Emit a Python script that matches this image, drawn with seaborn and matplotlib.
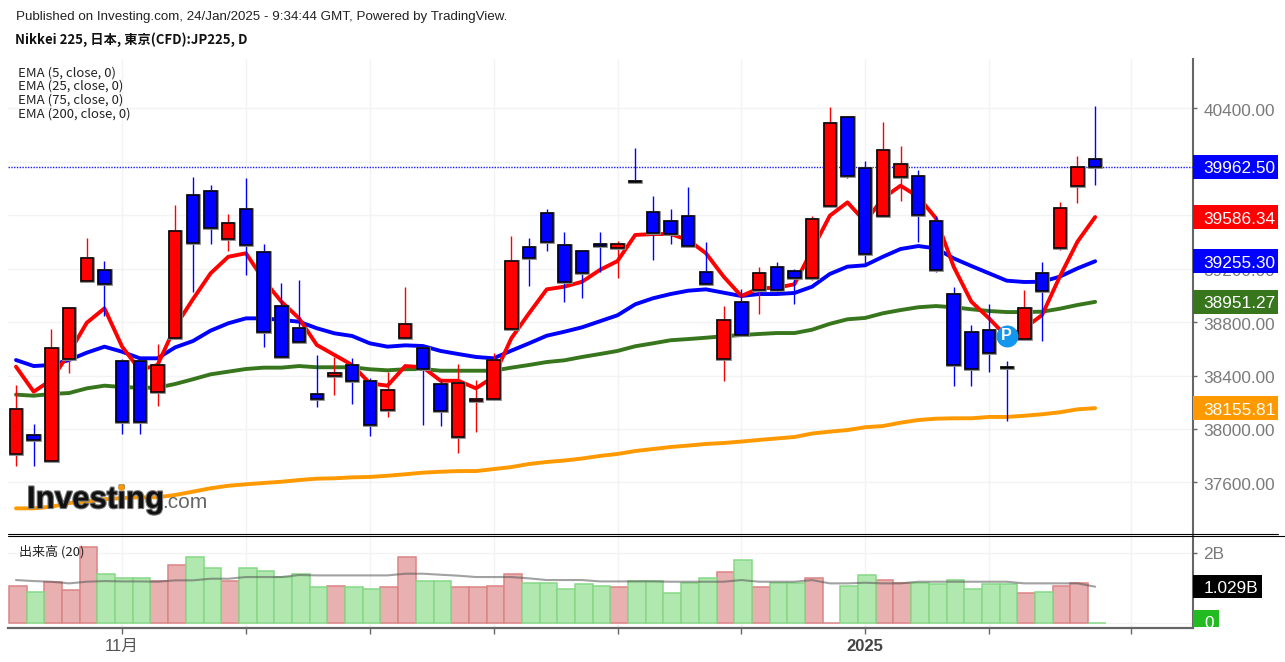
import matplotlib
matplotlib.use('Agg')
import matplotlib.pyplot as plt
import matplotlib.patheffects as pe
from matplotlib.lines import Line2D
from matplotlib.patches import Rectangle
from matplotlib.transforms import ScaledTranslation, blended_transform_factory
import pandas as pd
import seaborn as sns

opens = [37811, 37955, 37763, 38526, 39110, 39190, 38507, 38507, 38279, 38683, 39751, 39783, 39424,
         39649, 39325, 38920, 38754, 38260, 38399, 38481, 38357, 38142, 38683, 38604, 38337, 37940,
         38209, 38222, 38750, 39360, 39614, 39379, 39334, 39381, 39357, 39856, 39626, 39559, 39594,
         39177, 38526, 38953, 39042, 39210, 39180, 39132, 39671, 40337, 39953, 39594, 39884, 39896,
         39559, 39010, 38728, 38741, 38464, 38673, 39167, 39354, 39816, 40020]
closes = [38147, 37920, 38604, 38908, 39277, 39087, 38052, 38052, 38481, 39484, 39390, 39502, 39539,
          39377, 38728, 38536, 38651, 38222, 38417, 38357, 38032, 38292, 38786, 38447, 38135, 38346,
          38221, 38514, 39257, 39277, 39402, 39098, 39165, 39369, 39382, 39845, 39469, 39457, 39369,
          39087, 38818, 38706, 39165, 39040, 39132, 39571, 40290, 39896, 39312, 40088, 39985, 39604,
          39188, 38481, 38447, 38571, 38453, 38908, 39030, 39652, 39963, 39962.5]
highs = [38329, 38037, 38746, 38913, 39429, 39259, 38524, 38509, 38634, 39676, 39888, 39826, 39609,
         39878, 39384, 39090, 39115, 38554, 38541, 38529, 38384, 38429, 39060, 38616, 38367, 38486,
         38367, 38569, 39444, 39427, 39644, 39474, 39334, 39474, 39407, 40103, 39744, 39644, 39809,
         39397, 38923, 39045, 39214, 39247, 39195, 39596, 40407, 40345, 40003, 40295, 40116, 39936,
         39594, 39060, 38778, 38935, 38509, 39038, 39250, 39696, 40045, 40417]
lows = [37725, 37725, 37763, 38421, 39100, 38846, 37960, 37960, 38174, 38671, 39027, 39384, 39332,
        39152, 38611, 38536, 38651, 38162, 38252, 38185, 37950, 38092, 38676, 38028, 38022, 37820,
        37977, 38217, 38748, 39072, 39330, 38950, 38983, 39177, 39130, 39839, 39262, 39387, 39369,
        39087, 38361, 38706, 38858, 39020, 38938, 39115, 39671, 39881, 39235, 39594, 39708, 39397,
        39173, 38319, 38319, 38429, 38062, 38673, 38656, 39340, 39689, 39824]

ema5 = [38466, 38279, 38367, 38569, 38795, 38903, 38616, 38441, 38479, 38766, 38971, 39165, 39289,
        39315, 39115, 38953, 38828, 38629, 38554, 38479, 38342, 38324, 38471, 38462, 38361, 38361,
        38304, 38391, 38679, 38866, 39045, 39065, 39102, 39190, 39257, 39452, 39459, 39459, 39414,
        39315, 39140, 38995, 39053, 39057, 39083, 39340, 39596, 39696, 39551, 39726, 39821, 39738,
        39577, 39215, 38953, 38828, 38691, 38754, 38853, 39140, 39402, 39586.34]
ema25 = [38516, 38471, 38479, 38516, 38571, 38616, 38578, 38529, 38529, 38611, 38658, 38736, 38791,
         38828, 38828, 38816, 38803, 38754, 38716, 38696, 38641, 38616, 38626, 38621, 38584, 38561,
         38539, 38529, 38586, 38641, 38698, 38728, 38761, 38806, 38851, 38933, 38978, 39010, 39035,
         39045, 39020, 38995, 39010, 39010, 39018, 39065, 39160, 39215, 39225, 39289, 39347, 39369,
         39352, 39277, 39220, 39165, 39110, 39100, 39102, 39140, 39202, 39255.30]
ema75 = [38257, 38249, 38262, 38269, 38304, 38324, 38314, 38309, 38309, 38337, 38372, 38409, 38429,
         38449, 38459, 38459, 38471, 38462, 38462, 38462, 38447, 38439, 38447, 38449, 38436, 38436,
         38436, 38436, 38459, 38479, 38501, 38514, 38539, 38561, 38584, 38619, 38641, 38664, 38673,
         38683, 38694, 38703, 38711, 38718, 38718, 38743, 38787, 38821, 38831, 38866, 38890, 38911,
         38920, 38911, 38896, 38883, 38875, 38875, 38878, 38900, 38928, 38951.27]
ema200 = [37406, 37406, 37418, 37446, 37456, 37474, 37483, 37489, 37489, 37506, 37531, 37556, 37575,
          37586, 37596, 37605, 37618, 37628, 37631, 37638, 37641, 37650, 37661, 37673, 37680, 37685,
          37685, 37700, 37715, 37738, 37753, 37764, 37779, 37798, 37813, 37835, 37850, 37865, 37876,
          37888, 37895, 37906, 37918, 37929, 37940, 37966, 37980, 37992, 38013, 38022, 38047, 38067,
          38077, 38080, 38080, 38090, 38090, 38099, 38110, 38125, 38147, 38155.81]

# volume in billions, r/g is the bar colour used by the volume study
volume = [1.057, 0.886, 1.152, 0.924, 2.171, 1.400, 1.267, 1.267, 1.190, 1.657, 1.867, 1.562, 1.190,
          1.562, 1.486, 1.314, 1.400, 1.010, 1.057, 1.010, 0.971, 1.010, 1.867, 1.190, 1.180, 1.010,
          1.010, 1.048, 1.400, 1.143, 1.143, 0.971, 1.095, 1.048, 1.010, 1.180, 1.180, 0.838, 1.143,
          1.267, 1.438, 1.781, 1.010, 1.143, 1.143, 1.267, 0.000, 1.048, 1.352, 1.229, 1.143, 1.143,
          1.095, 1.229, 0.971, 1.095, 1.095, 0.838, 0.886, 1.057, 1.143, 0.000]
vol_side = list('rgrrrgggrrgg' 'rgggggrggrrg' 'grrrrgggggrg' 'ggggrgrggrrg' 'grrggggggrgrrg')
vol_sma = [1.219, 1.190, 1.171, 1.124, 1.171, 1.190, 1.180, 1.180, 1.171, 1.210, 1.210, 1.257, 1.257,
           1.305, 1.305, 1.305, 1.362, 1.352, 1.352, 1.352, 1.352, 1.352, 1.400, 1.400, 1.371, 1.343,
           1.305, 1.305, 1.305, 1.267, 1.219, 1.219, 1.219, 1.180, 1.180, 1.180, 1.180, 1.171, 1.171,
           1.171, 1.171, 1.219, 1.171, 1.171, 1.171, 1.219, 1.124, 1.124, 1.143, 1.124, 1.124, 1.171,
           1.171, 1.171, 1.171, 1.171, 1.171, 1.124, 1.124, 1.124, 1.124, 1.029]

price_ticks = [37600, 38000, 38400, 38800, 39200, 39600, 40000, 40400]
# 39600 and 40000 sit fully under the value flags in the original
hidden_ticks = [39600, 40000]
date_ticks = [6, 13, 20, 27, 34, 41, 48, 55, 63]
date_labels = ['11月', '', '', '', '', '', '2025', '', '']
ema_labels = ['EMA (5, close, 0)', 'EMA (25, close, 0)', 'EMA (75, close, 0)', 'EMA (200, close, 0)']
last_labels = [(39962.50, '39962.50', '#0000ff'), (39586.34, '39586.34', '#ff0000'),
               (39255.30, '39255.30', '#0000ff'), (38951.27, '38951.27', '#38761d'),
               (38155.81, '38155.81', '#ff9900')]
note_day, note_price = 56, 38696

sns.set_theme(style='white')
plt.rcParams['font.family'] = ['Liberation Sans', 'Noto Sans CJK JP', 'DejaVu Sans']
GRID = '#f3f3f3'
AXIS = '#666666'
TICK = '#7a7a7a'
CJK = ['Noto Sans CJK JP', 'DejaVu Sans']

days = list(range(len(closes)))
# the volume columns sit a little right of the candles
df = pd.DataFrame({'day': [d + 0.1 for d in days], 'volume': volume, 'side': vol_side})

W, H = 1285, 662
fig = plt.figure(figsize=(W / 100, H / 100), dpi=100, facecolor='white')
ax = fig.add_axes([8 / W, 1 - 534 / H, 1185 / W, 475 / H])
vol = fig.add_axes([8 / W, 1 - 628 / H, 1185 / W, 93 / H])
nudge = ScaledTranslation(0, -1.5 / 100, fig.dpi_scale_trans)

# EMAs sit under the candles
for series, color in [(ema200, '#ff9900'), (ema75, '#38761d'), (ema25, '#0000ff'), (ema5, '#ff0000')]:
    sns.lineplot(x=days, y=series, color=color, linewidth=2.8, ax=ax, legend=False, errorbar=None, zorder=2)

# candles
up = [c >= o for o, c in zip(opens, closes)]
colors = ['#ff0000' if u else '#0000ff' for u in up]
ax.vlines(days, lows, highs, colors=colors, linewidth=1.0, zorder=3)
bars = ax.bar(days, [abs(c - o) for o, c in zip(opens, closes)], bottom=[min(o, c) for o, c in zip(opens, closes)],
              width=0.7, color=colors, edgecolor='black', linewidth=1.1, zorder=4)
for b in bars:
    b.set_path_effects([pe.Stroke(linewidth=2.0, foreground='#888888'), pe.Normal()])

ax.axhline(closes[-1], color='#1a1aff', linestyle=(0, (1, 1)), linewidth=1.0, zorder=3)

ax.set_xlim(-0.452, 66.53)
ax.set_ylim(37214, 40769)
ax.set_xticks(date_ticks)
ax.set_xticklabels([])
ax.set_yticks(price_ticks)
ax.set_yticklabels(['' if v in hidden_ticks else f'{v:.2f}' for v in price_ticks], fontsize=12.4, color=TICK)
ax.yaxis.tick_right()
ax.tick_params(axis='y', right=True, length=3, width=1, color=AXIS, pad=4.5)
ax.tick_params(axis='x', bottom=False, length=0)
for lab in ax.get_yticklabels():
    lab.set_transform(lab.get_transform() + nudge)
ax.grid(True, color=GRID, linewidth=1)
ax.set_axisbelow(True)
for s in ['top', 'left', 'bottom']:
    ax.spines[s].set_visible(False)
ax.spines['right'].set_color(AXIS)
ax.spines['right'].set_linewidth(1.5)

# last value flags on the price scale
flags = blended_transform_factory(ax.transAxes, ax.transData)
for value, text, color in last_labels:
    ax.add_patch(Rectangle((1, value - 88), 85 / 1185, 176, transform=flags, color=color, clip_on=False, zorder=10, lw=0))
    ax.text(1 + 10 / 1185, value - 15, text, transform=flags, color='white', fontsize=12.4, va='center', ha='left', zorder=11)

# publication badge
ax.scatter([note_day], [note_price], s=250, color='#1296ee', zorder=6, linewidths=0)
ax.text(note_day, note_price + 5, 'P', color='white', fontsize=11.5, fontweight='bold', ha='center', va='center', zorder=7)

# volume pane
for side, fill, edge in [('r', '#e8b0b0', '#dc8484'), ('g', '#b0e8b0', '#86d886')]:
    sub = df[df['side'] == side]
    sns.barplot(data=sub, x='day', y='volume', native_scale=True, color=fill, saturation=1, width=1.0,
                edgecolor=edge, linewidth=1.1, ax=vol, zorder=2, errorbar=None)
sns.lineplot(x=days, y=vol_sma, color='#555555', alpha=0.55, linewidth=1.5, ax=vol, legend=False, errorbar=None, zorder=3)
vol.set_xlim(-0.452, 66.53)
vol.set_ylim(-0.151, 2.506)
vol.set_xlabel('')
vol.set_ylabel('')
vol.set_xticks(date_ticks)
vol.set_xticklabels(date_labels, fontsize=12, color='#555555')
vol.get_xticklabels()[6].set_fontweight('bold')
vol.get_xticklabels()[6].set_color('#444444')
vol.set_yticks([0, 2])
vol.set_yticklabels(['', '2B'], fontsize=12.4, color=TICK)
vol.yaxis.tick_right()
vol.tick_params(axis='y', right=True, length=3, width=1, color=AXIS, pad=4.5)
vol.tick_params(axis='x', bottom=True, length=4, width=1, color=AXIS, pad=4)
vol.grid(True, color=GRID, linewidth=1)
vol.set_axisbelow(True)
for s in ['top', 'left']:
    vol.spines[s].set_visible(False)
vol.spines['right'].set_color(AXIS)
vol.spines['right'].set_linewidth(1.5)
vol.spines['bottom'].set_color(AXIS)
vol.spines['bottom'].set_linewidth(1.6)

vflags = blended_transform_factory(vol.transAxes, vol.transData)
vol.add_patch(Rectangle((1, vol_sma[-1] - 0.33), 69 / 1185, 0.66, transform=vflags, color='black', clip_on=False, zorder=10, lw=0))
vol.text(1 + 11 / 1185, vol_sma[-1] - 0.04, '1.029B', transform=vflags, color='white', fontsize=12.4, va='center', zorder=11)
zero_box = Rectangle((1, -0.11), 26 / 1185, 0.46, transform=vflags, color='#22bb22', clip_on=False, zorder=10, lw=0)
vol.add_patch(zero_box)
zero_text = vol.text(1 + 11 / 1185, -0.03, '0', transform=vflags, color='white', fontsize=12.4, va='center', zorder=11)
zero_text.set_clip_path(zero_box)
vol.text(11 / 1185, 0.815, '出来高 (20)', transform=vol.transAxes, fontsize=9.4, color='#222222', va='center', zorder=12,
         family=CJK)

# divider between the panes
fig.add_artist(Line2D([8 / W, 1278 / W], [1 - 533.6 / H] * 2, color='black', linewidth=0.8))
fig.add_artist(Line2D([8 / W, 1285 / W], [1 - 535.6 / H] * 2, color='black', linewidth=0.8))

# header and study labels
fig.text(16 / W, 1 - 17 / H, 'Published on Investing.com, 24/Jan/2025 - 9:34:44 GMT, Powered by TradingView.',
         fontsize=9.63, color='#222222', va='center')
fig.text(15 / W, 1 - 40 / H, 'Nikkei 225, 日本, 東京(CFD):JP225, D', fontsize=9.5, fontweight='bold', color='#111111',
         va='center', family=CJK)
for label, y in zip(ema_labels, [73, 86.5, 100, 114]):
    fig.text(18 / W, 1 - y / H, label, fontsize=9.5, color='#222222', va='center', zorder=12, family=CJK)

# logo
fig.text(27 / W, 1 - 500 / H, 'Investing', fontsize=22.5, fontweight='bold', color='#111111', va='center', zorder=12,
         path_effects=[pe.Stroke(linewidth=1.6, foreground='#777777'), pe.Normal()])
fig.text(162 / W, 1 - 503 / H, '.com', fontsize=15, color='#666666', va='center', zorder=12)
fig.add_artist(Line2D([120.7 / W], [1 - 486.7 / H], marker='o', markersize=3.5, color='#ff9900', zorder=13))

fig.savefig('out.png', dpi=100, facecolor='white')
